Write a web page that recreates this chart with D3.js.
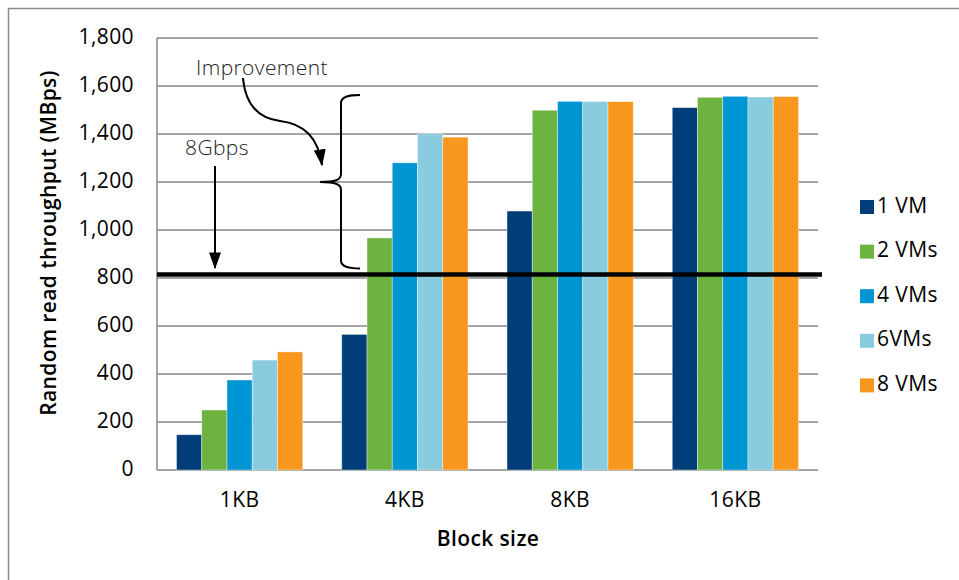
<!DOCTYPE html>
<html>
<head>
<meta charset="utf-8">
<script src="https://cdn.jsdelivr.net/npm/d3@7"></script>
<style>
  body { margin: 0; background: #fff; }
  svg { font-family: "Open Sans", "Noto Sans", sans-serif; letter-spacing: 0.4px; }
</style>
</head>
<body>
<script>
var blockSizes = ["1KB", "4KB", "8KB", "16KB"];
var seriesNames = ["1 VM", "2 VMs", "4 VMs", "6VMs", "8 VMs"];
var seriesColors = ["#003d79", "#6db33f", "#0095d3", "#89cbdf", "#f8971d"];
// one array per series, values in MBps for each block size
var vm1 = [147, 565, 1079, 1510];
var vm2 = [250, 967, 1499, 1553];
var vm4 = [375, 1280, 1536, 1557];
var vm6 = [458, 1401, 1535, 1554];
var vm8 = [492, 1387, 1535, 1556];
var yTicks = [0, 200, 400, 600, 800, 1000, 1200, 1400, 1600, 1800];
var limit8Gbps = 815;

var series = [vm1, vm2, vm4, vm6, vm8];

var svg = d3.select("body").append("svg")
            .attr("width", 959)
            .attr("height", 580);

// outer chart border (only top/left visible in frame)
svg.append("rect")
    .attr("x", 8.5).attr("y", 8.5)
    .attr("width", 1000).attr("height", 1000)
    .attr("fill", "none")
    .attr("stroke", "#8c8c8c")
    .attr("stroke-width", 1.5);

var y = d3.scaleLinear().domain([0, 1800]).range([470, 38]);
var x0 = d3.scaleBand().domain(blockSizes).range([157, 818])
            .paddingInner(0.236).paddingOuter(0.118);
var x1 = d3.scaleBand().domain(d3.range(seriesNames.length)).range([0, x0.bandwidth()]);

// gridlines
svg.selectAll("line.grid")
    .data(yTicks)
    .enter().append("line")
              .attr("class", "grid")
              .attr("x1", 157)
              .attr("x2", 818)
              .attr("y1", function(d){return y(d);})
              .attr("y2", function(d){return y(d);})
              .attr("stroke", "#868686")
              .attr("stroke-width", 1.5);

// left axis line
svg.append("line")
    .attr("x1", 157).attr("x2", 157)
    .attr("y1", y(1800)).attr("y2", y(0))
    .attr("stroke", "#868686")
    .attr("stroke-width", 1.5);

// y tick labels
svg.selectAll("text.ytick")
    .data(yTicks)
    .enter().append("text")
              .attr("class", "ytick")
              .attr("x", 134)
              .attr("y", function(d){return y(d);})
              .attr("dominant-baseline", "middle")
              .attr("text-anchor", "end")
              .attr("font-size", 21)
              .attr("fill", "#000")
              .text(function(d){return d3.format(",")(d);});

// bars
var groups = svg.selectAll("g.group")
    .data(blockSizes)
    .enter().append("g")
              .attr("class", "group")
              .attr("transform", function(d){return "translate(" + x0(d) + ",0)";});

groups.selectAll("rect")
    .data(function(d, i){return series.map(function(s, j){return {k: j, v: s[i]};});})
    .enter().append("rect")
              .attr("x", function(d){return x1(d.k);})
              .attr("width", x1.bandwidth())
              .attr("y", function(d){return y(d.v);})
              .attr("height", function(d){return y(0) - y(d.v);})
              .attr("fill", function(d){return seriesColors[d.k];})
              .attr("stroke", "#ffffff")
              .attr("stroke-opacity", 0.5)
              .attr("stroke-width", 0.8);

// x tick labels
svg.selectAll("text.xtick")
    .data(blockSizes)
    .enter().append("text")
              .attr("class", "xtick")
              .attr("x", function(d){return x0(d) + x0.bandwidth() / 2;})
              .attr("y", 501)
              .attr("dominant-baseline", "middle")
              .attr("text-anchor", "middle")
              .attr("font-size", 21)
              .attr("fill", "#000")
              .text(function(d){return d;});

// axis titles
svg.append("text")
    .attr("x", 488)
    .attr("y", 540)
    .attr("dominant-baseline", "middle")
    .attr("text-anchor", "middle")
    .attr("font-size", 21)
    .attr("font-weight", 600)
    .attr("fill", "#000")
    .text("Block size");

svg.append("text")
    .attr("transform", "translate(50,243) rotate(-90)")
    .attr("dominant-baseline", "middle")
    .attr("text-anchor", "middle")
    .attr("font-size", 21)
    .attr("font-weight", 600)
    .attr("fill", "#000")
    .text("Random read throughput (MBps)");

// 8Gbps limit line
svg.append("line")
    .attr("x1", 157).attr("x2", 822)
    .attr("y1", y(limit8Gbps)).attr("y2", y(limit8Gbps))
    .attr("stroke", "#000")
    .attr("stroke-width", 4.5);

// legend
var legend = svg.selectAll("g.legend")
    .data(seriesNames)
    .enter().append("g")
              .attr("class", "legend")
              .attr("transform", function(d, i){return "translate(860," + (207 + i * 44.6) + ")";});

legend.append("rect")
    .attr("x", 0).attr("y", -7)
    .attr("width", 14).attr("height", 14)
    .attr("fill", function(d, i){return seriesColors[i];});

legend.append("text")
    .attr("x", 17)
    .attr("y", 0)
    .attr("dominant-baseline", "middle")
    .attr("font-size", 21)
    .attr("fill", "#000")
    .text(function(d){return d;});

// annotations
var defs = svg.append("defs");
defs.append("marker")
    .attr("id", "head")
    .attr("viewBox", "0 0 14 10")
    .attr("refX", 13).attr("refY", 5)
    .attr("markerWidth", 8.4).attr("markerHeight", 6)
    .attr("orient", "auto")
  .append("path")
    .attr("d", "M0,0 L14,5 L0,10 Z")
    .attr("fill", "#000");

svg.append("text")
    .attr("x", 196)
    .attr("y", 69)
    .attr("dominant-baseline", "middle")
    .attr("font-size", 21)
    .attr("font-weight", 300)
    .attr("fill", "#222")
    .text("Improvement");

svg.append("path")
    .attr("d", "M243,78 C245,100 255,118 280,121 C305,124 318,138 322,165")
    .attr("fill", "none")
    .attr("stroke", "#000")
    .attr("stroke-width", 2)
    .attr("marker-end", "url(#head)");

svg.append("text")
    .attr("x", 185)
    .attr("y", 149)
    .attr("dominant-baseline", "middle")
    .attr("font-size", 21)
    .attr("font-weight", 300)
    .attr("fill", "#222")
    .text("8Gbps");

svg.append("line")
    .attr("x1", 215).attr("x2", 215)
    .attr("y1", 166).attr("y2", 268)
    .attr("stroke", "#000")
    .attr("stroke-width", 2)
    .attr("marker-end", "url(#head)");

// brace
var bTop = y(1562), bMid = y(1200), bBot = y(840);
svg.append("path")
    .attr("d", "M360," + bTop + " C350," + bTop + " 341," + (bTop + 1) + " 341," + (bTop + 8) +
               " L341," + (bMid - 8) + " C341," + (bMid - 2) + " 335," + bMid + " 320," + bMid +
               " C335," + bMid + " 341," + (bMid + 2) + " 341," + (bMid + 8) +
               " L341," + (bBot - 8) + " C341," + (bBot - 1) + " 350," + bBot + " 360," + bBot)
    .attr("fill", "none")
    .attr("stroke", "#000")
    .attr("stroke-width", 2);
</script>
</body>
</html>
